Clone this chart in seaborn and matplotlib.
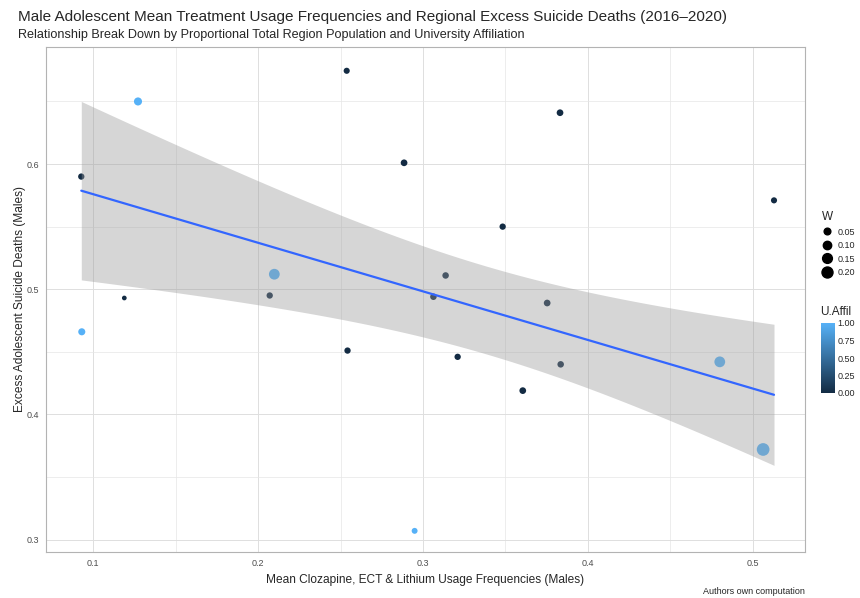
import numpy as np
import pandas as pd
import matplotlib
matplotlib.use("Agg")
import matplotlib.pyplot as plt
import seaborn as sns
from matplotlib.colors import LinearSegmentedColormap, Normalize
from matplotlib.lines import Line2D
import matplotlib.colorbar as mcolorbar

# --- data ---
usage_freq = [0.0927, 0.1271, 0.0930, 0.1188, 0.2070, 0.2098, 0.2537, 0.2542,
              0.2885, 0.2949, 0.3063, 0.3137, 0.3210, 0.3483, 0.3605, 0.3753,
              0.3831, 0.3835, 0.4800, 0.5063, 0.5129]
excess_deaths = [0.590, 0.650, 0.466, 0.493, 0.495, 0.512, 0.6745, 0.451,
                 0.601, 0.307, 0.494, 0.511, 0.446, 0.550, 0.419, 0.489,
                 0.641, 0.440, 0.442, 0.372, 0.571]
pop_share = [0.04, 0.09, 0.06, 0.005, 0.04, 0.19, 0.035, 0.04,
             0.05, 0.03, 0.045, 0.045, 0.04, 0.04, 0.05, 0.05,
             0.05, 0.045, 0.19, 0.28, 0.035]
uni_affil = [0, 1, 1, 0, 0, 1, 0, 0,
             0, 1, 0, 0, 0, 0, 0, 0,
             0, 0, 1, 1, 0]

size_legend_values = [0.05, 0.10, 0.15, 0.20]
colorbar_ticks = [0.0, 0.25, 0.5, 0.75, 1.0]

df = pd.DataFrame({"x": usage_freq, "y": excess_deaths,
                   "W": pop_share, "U.Affil": uni_affil})

# --- style ---
sns.set_theme(style="white")
plt.rcParams["font.family"] = ["Liberation Sans", "DejaVu Sans"]

cmap = LinearSegmentedColormap.from_list("gg", ["#132B43", "#56B1F7"])


def marker_area(w):
    # marker area (points^2) growing linearly with W
    diam_px = np.sqrt(19.7 + 507.0 * w)
    return (0.72 * diam_px) ** 2


size_map = {v: marker_area(v) for v in sorted(set(pop_share))}

fig = plt.figure(figsize=(8.6, 5.98), dpi=100)
ax = fig.add_axes([46 / 860, 1 - 552 / 598, (805 - 46) / 860, (552 - 47) / 598])

# points first, then the smoother drawn on top (like ggplot layer order)
sns.scatterplot(data=df, x="x", y="y", hue="U.Affil", palette=cmap, hue_norm=(0, 1),
                size="W", sizes=size_map,
                edgecolor="none", linewidth=0, legend=False, ax=ax, zorder=2)

# weighted linear fit (weights = W) with 95% confidence band
x = df["x"].to_numpy()
y = df["y"].to_numpy()
w = df["W"].to_numpy()
n = len(x)
X = np.column_stack([np.ones(n), x])
XtW = X.T * w
cov_unscaled = np.linalg.inv(XtW @ X)
beta = cov_unscaled @ (XtW @ y)
resid = y - X @ beta
sigma2 = np.sum(w * resid ** 2) / (n - 2)
xs = np.linspace(x.min(), x.max(), 80)
Xs = np.column_stack([np.ones_like(xs), xs])
fit = Xs @ beta
se_fit = np.sqrt(sigma2 * np.einsum("ij,jk,ik->i", Xs, cov_unscaled, Xs))
t_crit = 2.093  # t(0.975, df=19)
ax.fill_between(xs, fit - t_crit * se_fit, fit + t_crit * se_fit,
                color="#999999", alpha=0.4, linewidth=0, zorder=3)
sns.lineplot(x=xs, y=fit, color="#3366FF", linewidth=1.6, ax=ax, zorder=4)

# axes
ax.set_xlim(0.0713, 0.5317)
ax.set_ylim(0.2901, 0.6935)
ax.set_xticks([0.1, 0.2, 0.3, 0.4, 0.5])
ax.set_xticks([0.15, 0.25, 0.35, 0.45], minor=True)
ax.set_yticks([0.3, 0.4, 0.5, 0.6])
ax.set_yticks([0.35, 0.45, 0.55, 0.65], minor=True)
ax.set_xticklabels(["0.1", "0.2", "0.3", "0.4", "0.5"])
ax.set_yticklabels(["0.3", "0.4", "0.5", "0.6"])
ax.grid(True, which="major", color="#DEDEDE", linewidth=0.7, zorder=0)
ax.grid(True, which="minor", color="#E6E6E6", linewidth=0.5, zorder=0)
ax.set_axisbelow(True)
for sp in ax.spines.values():
    sp.set_color("#B3B3B3")
    sp.set_linewidth(0.8)
ax.tick_params(which="major", length=3, width=0.6, color="#B3B3B3",
               labelsize=6.5, labelcolor="#4D4D4D", pad=2)
ax.tick_params(which="minor", length=0)
ax.set_xlabel("Mean Clozapine, ECT & Lithium Usage Frequencies (Males)", fontsize=8.6, labelpad=4)
ax.set_ylabel("Excess Adolescent Suicide Deaths (Males)", fontsize=8.6, labelpad=0.5)

# titles and caption
fig.text(18 / 860, 1 - 17 / 598, "Male Adolescent Mean Treatment Usage Frequencies and Regional Excess Suicide Deaths (2016–2020)",
         fontsize=11.0, va="center", ha="left")
fig.text(18 / 860, 1 - 35 / 598, "Relationship Break Down by Proportional Total Region Population and University Affiliation",
         fontsize=9.1, va="center", ha="left")
fig.text(805 / 860, 1 - 591 / 598, "Authors own computation", fontsize=6.5, va="center", ha="right")

# size legend
handles = [Line2D([], [], linestyle="none", marker="o", color="black",
                  markersize=np.sqrt(marker_area(v))) for v in size_legend_values]
leg = fig.legend(handles, [f"{v:.2f}" for v in size_legend_values], title="W",
                 loc="upper left", bbox_to_anchor=(822 / 860, 1 - 211 / 598),
                 frameon=False, fontsize=6.5, title_fontsize=8.5,
                 handlelength=1.0, handletextpad=0.7, labelspacing=0.5,
                 borderaxespad=0, borderpad=0)
leg._legend_box.align = "left"

# colour bar
fig.text(820 / 860, 1 - 312 / 598, "U.Affil", fontsize=8.5, va="center", ha="left")
cax = fig.add_axes([821 / 860, 1 - 393 / 598, 14 / 860, 70 / 598])
cb = mcolorbar.ColorbarBase(cax, cmap=cmap, norm=Normalize(0, 1), orientation="vertical")
cb.set_ticks(colorbar_ticks)
cb.set_ticklabels([f"{t:.2f}" for t in colorbar_ticks])
cb.outline.set_visible(False)
cax.tick_params(length=3, width=0.6, color="white", direction="in", labelsize=6.5, pad=2)

fig.savefig("out.png", dpi=100)
